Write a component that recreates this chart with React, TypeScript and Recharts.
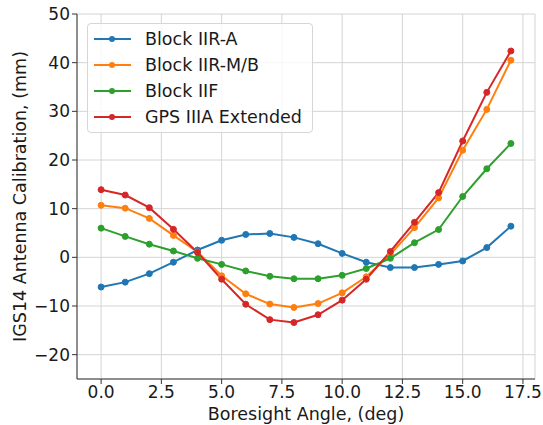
import React from 'react';
import {
  LineChart,
  Line,
  XAxis,
  YAxis,
  CartesianGrid
} from 'recharts';

// boresight angles, deg
const angles = [0, 1, 2, 3, 4, 5, 6, 7, 8, 9, 10, 11, 12, 13, 14, 15, 16, 17];

// calibration values (mm)
const blockIIRA = [-6.1, -5.1, -3.35, -1.0, 1.5, 3.5, 4.7, 4.9, 4.1, 2.8, 0.8, -1.0, -2.1, -2.1, -1.45, -0.75, 2.0, 6.4];
const blockIIRMB = [10.7, 10.1, 8.0, 4.5, 1.1, -3.8, -7.5, -9.6, -10.3, -9.5, -7.3, -4.0, 0.6, 6.1, 12.2, 22.0, 30.4, 40.5];
const blockIIF = [6.0, 4.3, 2.7, 1.3, -0.2, -1.45, -2.8, -3.9, -4.4, -4.4, -3.7, -2.3, -0.2, 3.0, 5.7, 12.5, 18.2, 23.4];
const gpsIIIA = [13.9, 12.8, 10.2, 5.75, 1.0, -4.5, -9.65, -12.8, -13.4, -11.8, -8.8, -4.5, 1.2, 7.2, 13.3, 23.9, 33.9, 42.4];

const xTicks = [0, 2.5, 5, 7.5, 10, 12.5, 15, 17.5];
const yTicks = [-20, -10, 0, 10, 20, 30, 40, 50];

const series = [
  { key: 'iira', name: 'Block IIR-A', color: '#1f77b4' },
  { key: 'iirmb', name: 'Block IIR-M/B', color: '#ff7f0e' },
  { key: 'iif', name: 'Block IIF', color: '#2ca02c' },
  { key: 'iiia', name: 'GPS IIIA Extended', color: '#d62728' }
];

const data = angles.map((a, i) => ({
  angle: a,
  iira: blockIIRA[i],
  iirmb: blockIIRMB[i],
  iif: blockIIF[i],
  iiia: gpsIIIA[i]
}));

const FONT = 'DejaVu Sans, sans-serif';

const fmtNum = (v: number, digits: number) => {
  const s = Math.abs(v).toFixed(digits);
  return v < 0 ? '\u2212' + s : s;
};

// legend drawn as an overlay, like matplotlib's 'upper left' box
const LegendBox = () => (
  <div
    style={{
      position: 'absolute',
      left: 87,
      top: 23,
      background: 'rgba(255,255,255,0.8)',
      border: '1px solid #d6d6d6',
      borderRadius: 4,
      width: 226,
      height: 110,
      boxSizing: 'border-box',
      paddingTop: 2,
      fontFamily: FONT,
      fontSize: 17.5,
      color: '#1a1a1a'
    }}
  >
    {series.map((s) => (
      <div key={s.key} style={{ height: 26, display: 'flex', alignItems: 'center' }}>
        <svg width={57} height={26} style={{ flex: 'none' }}>
          <line x1={6} x2={43} y1={13} y2={13} stroke={s.color} strokeWidth={2} />
          <circle cx={24} cy={13} r={3} fill={s.color} />
        </svg>
        <span style={{ whiteSpace: 'nowrap' }}>{s.name}</span>
      </div>
    ))}
  </div>
);

const YLabel = (props: any) => {
  const vb = props.viewBox || {};
  const cx = 20;
  const cy = (vb.y ?? 14) + (vb.height ?? 365) / 2;
  return (
    <text
      x={cx}
      y={cy}
      transform={`rotate(-90, ${cx}, ${cy})`}
      textAnchor="middle"
      dominantBaseline="central"
      fontFamily={FONT}
      fontSize={17.5}
      fill="#1a1a1a"
    >
      IGS14 Antenna Calibration, (mm)
    </text>
  );
};

const App: React.FC = () => {
  return (
    <div style={{ position: 'absolute', left: 0, top: 0, width: 543, height: 425, background: '#fff' }}>
      <LineChart
        width={543}
        height={425}
        data={data}
        margin={{ top: 14, right: 8, left: 0, bottom: 0 }}
      >
        <CartesianGrid stroke="#d4d4d4" strokeWidth={1} />
        <XAxis
          dataKey="angle"
          type="number"
          domain={[-1, 18]}
          ticks={xTicks}
          tickFormatter={(v: number) => fmtNum(v, 1)}
          height={46}
          tickSize={5}
          tickMargin={2}
          stroke="#333"
          tick={{ fill: '#1a1a1a', fontSize: 17, fontFamily: FONT }}
          tickLine={{ stroke: '#333' }}
          axisLine={{ stroke: '#333' }}
          allowDataOverflow
          interval={0}
          label={{
            value: 'Boresight Angle, (deg)',
            position: 'insideBottom',
            offset: 5,
            fill: '#1a1a1a',
            fontSize: 17.5,
            fontFamily: FONT
          }}
        />
        <XAxis
          xAxisId="top"
          orientation="top"
          dataKey="angle"
          type="number"
          domain={[-1, 18]}
          height={0}
          tick={false}
          tickLine={false}
          axisLine={{ stroke: '#333' }}
        />
        <YAxis
          type="number"
          domain={[-25, 50]}
          ticks={yTicks}
          tickFormatter={(v: number) => fmtNum(v, 0)}
          width={77}
          tickSize={5}
          tickMargin={2}
          stroke="#333"
          tick={{ fill: '#1a1a1a', fontSize: 17, fontFamily: FONT }}
          tickLine={{ stroke: '#333' }}
          axisLine={{ stroke: '#333' }}
          allowDataOverflow
          interval={0}
          label={<YLabel />}
        />
        <YAxis
          yAxisId="right"
          orientation="right"
          type="number"
          domain={[-25, 50]}
          width={0}
          tick={false}
          tickLine={false}
          axisLine={{ stroke: '#333' }}
        />
        {series.map((s) => (
          <Line
            key={s.key}
            type="linear"
            dataKey={s.key}
            name={s.name}
            stroke={s.color}
            strokeWidth={2}
            dot={{ r: 3, fill: s.color, stroke: s.color, strokeWidth: 1 }}
            activeDot={false}
            isAnimationActive={false}
          />
        ))}
      </LineChart>
      <LegendBox />
    </div>
  );
};

export default App;
